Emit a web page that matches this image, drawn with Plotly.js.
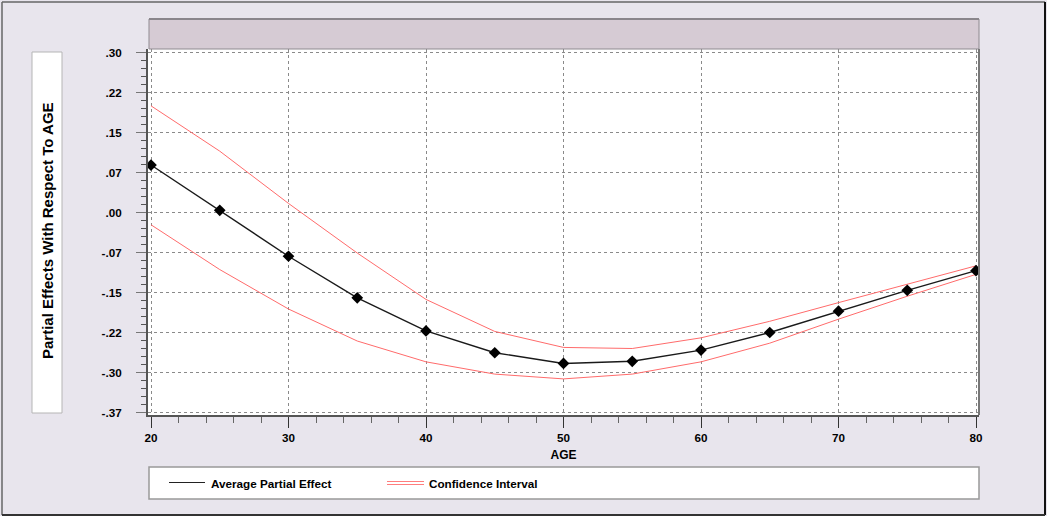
<!DOCTYPE html>
<html>
<head>
<meta charset="utf-8">
<script src="https://cdn.plot.ly/plotly-3.0.1.min.js"></script>
<style>html,body{margin:0;padding:0;background:#e8e5ed;}#chart{width:1047px;height:516px;}</style>
</head>
<body>
<div id="chart"></div>
<script>
// ---- data ----
const ages = [20, 25, 30, 35, 40, 45, 50, 55, 60, 65, 70, 75, 80];
const avgEffect = [0.089, 0.004, -0.082, -0.160, -0.222, -0.263, -0.283, -0.279, -0.258, -0.225, -0.185, -0.146, -0.109];
const ciUpper = [0.200, 0.115, 0.017, -0.076, -0.163, -0.223, -0.253, -0.255, -0.235, -0.204, -0.169, -0.134, -0.100];
const ciLower = [-0.023, -0.107, -0.181, -0.241, -0.280, -0.303, -0.312, -0.303, -0.280, -0.245, -0.200, -0.157, -0.116];
const yTickVals = [0.3, 0.225, 0.15, 0.075, 0, -0.075, -0.15, -0.225, -0.3, -0.375];
const yTickText = ['.30', '.22', '.15', '.07', '.00', '-.07', '-.15', '-.22', '-.30', '-.37'];
const xTickVals = [20, 30, 40, 50, 60, 70, 80];
const seriesNames = ['Average Partial Effect', 'Confidence Interval'];
const yTitle = 'Partial Effects With Respect To AGE';
const xTitle = 'AGE';

// ---- geometry helpers (pixel -> paper) ----
const L = 148, R = 979, T = 49, B = 415;
const px = v => (v - L) / (R - L);
const py = v => (B - v) / (B - T);
const FONT = 'Liberation Sans, Arial, sans-serif';

const traces = [
  {x: ages, y: ciUpper, mode: 'lines', line: {color: '#ff6b6b', width: 1}, showlegend: false, hoverinfo: 'x+y', name: seriesNames[1]},
  {x: ages, y: ciLower, mode: 'lines', line: {color: '#ff6b6b', width: 1}, showlegend: false, hoverinfo: 'x+y', name: seriesNames[1]},
  {x: ages, y: avgEffect, mode: 'lines+markers', line: {color: '#1a1a1a', width: 1.4},
   marker: {symbol: 'diamond', size: 9, color: '#000'}, showlegend: false, name: seriesNames[0]}
];

const shapes = [
  // outer frame
  {type: 'line', xref: 'paper', yref: 'paper', x0: px(2), x1: px(1045), y0: py(2), y1: py(2), line: {color: '#666', width: 1.5}},
  {type: 'line', xref: 'paper', yref: 'paper', x0: px(2), x1: px(2), y0: py(2), y1: py(515), line: {color: '#666', width: 1.5}},
  {type: 'line', xref: 'paper', yref: 'paper', x0: px(1045), x1: px(1045), y0: py(2), y1: py(515), line: {color: '#111', width: 2}},
  {type: 'line', xref: 'paper', yref: 'paper', x0: px(2), x1: px(1045), y0: py(515), y1: py(515), line: {color: '#333', width: 2}},
  // top band
  {type: 'rect', xref: 'paper', yref: 'paper', x0: px(149), x1: px(979), y0: py(19), y1: py(49), fillcolor: '#d6cbd4', line: {color: '#8f8a90', width: 1}},
  {type: 'line', xref: 'paper', yref: 'paper', x0: px(149), x1: px(979), y0: py(19), y1: py(19), line: {color: '#8a868c', width: 2}},
  // right border of plot
  {type: 'line', xref: 'paper', yref: 'paper', x0: 1, x1: 1, y0: 0, y1: 1, line: {color: '#777', width: 2}},
  // y title box
  {type: 'rect', xref: 'paper', yref: 'paper', x0: px(32), x1: px(62), y0: py(52), y1: py(413), fillcolor: '#ffffff', line: {color: '#b5b5b5', width: 1}},
  // legend box
  {type: 'rect', xref: 'paper', yref: 'paper', x0: px(149), x1: px(979), y0: py(467), y1: py(499), fillcolor: '#ffffff', line: {color: '#999', width: 1.5}},
  // legend symbols
  {type: 'line', xref: 'paper', yref: 'paper', x0: px(169), x1: px(205), y0: py(482.5), y1: py(482.5), line: {color: '#222', width: 1}},
  {type: 'line', xref: 'paper', yref: 'paper', x0: px(387), x1: px(424), y0: py(481.5), y1: py(481.5), line: {color: '#ff7d7d', width: 1}},
  {type: 'line', xref: 'paper', yref: 'paper', x0: px(387), x1: px(424), y0: py(484.5), y1: py(484.5), line: {color: '#ff7d7d', width: 1}}
];

const annotations = [
  {xref: 'paper', yref: 'paper', x: px(47), y: py(231), text: yTitle, textangle: -90, showarrow: false,
   font: {family: FONT, size: 15, color: '#000', weight: 'bold'}, xanchor: 'center', yanchor: 'middle'},
  {xref: 'paper', yref: 'paper', x: px(209), y: py(483), text: seriesNames[0], showarrow: false,
   font: {family: FONT, size: 11.7, color: '#000', weight: 'bold'}, xanchor: 'left', yanchor: 'middle'},
  {xref: 'paper', yref: 'paper', x: px(427), y: py(483), text: seriesNames[1], showarrow: false,
   font: {family: FONT, size: 11.7, color: '#000', weight: 'bold'}, xanchor: 'left', yanchor: 'middle'}
];

const layout = {
  width: 1047, height: 516,
  margin: {l: L, r: 1047 - R, t: T, b: 516 - B, pad: 0},
  paper_bgcolor: '#e8e5ed', plot_bgcolor: '#ffffff',
  showlegend: false,
  font: {family: FONT, size: 11, color: '#000'},
  xaxis: {
    range: [20 - 3 / 13.75, 80 + 3 / 13.75], tickmode: 'array', tickvals: xTickVals,
    ticks: 'outside', ticklen: 11, tickcolor: '#333', tickwidth: 1,
    tickfont: {family: FONT, size: 11.7, color: '#000', weight: 'bold'},
    showline: true, linecolor: '#555', linewidth: 2, zeroline: false,
    showgrid: true, gridcolor: '#8a8a8a', griddash: 'dot', gridwidth: 1,
    minor: {dtick: 2, tick0: 20, ticks: 'outside', ticklen: 6, tickcolor: '#666', showgrid: false},
    title: {text: xTitle, standoff: 8, font: {family: FONT, size: 12, color: '#000', weight: 'bold'}}
  },
  yaxis: {
    range: [-0.375 - 2.5 / 533.3, 0.3 + 3.5 / 533.3], tickmode: 'array', tickvals: yTickVals, ticktext: yTickText,
    ticks: 'outside', ticklen: 10, tickcolor: '#777', tickwidth: 1, ticklabelstandoff: 12,
    tickfont: {family: FONT, size: 11.7, color: '#000', weight: 'bold'},
    showline: true, linecolor: '#555', linewidth: 2, zeroline: false,
    showgrid: true, gridcolor: '#8a8a8a', griddash: 'dot', gridwidth: 1,
    minor: {dtick: 0.015, tick0: 0.3, ticks: 'outside', ticklen: 5, tickcolor: '#555', showgrid: false}
  },
  shapes: shapes,
  annotations: annotations
};

Plotly.newPlot('chart', traces, layout, {displayModeBar: false, staticPlot: true});
</script>
</body>
</html>
